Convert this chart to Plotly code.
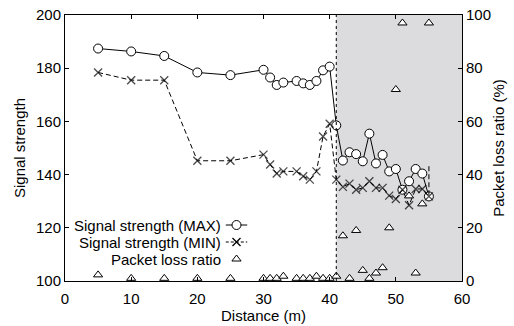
import plotly.graph_objects as go

# ---- data ----
dist_max = [5, 10, 15, 20, 25, 30, 31, 32, 33, 35, 36, 37, 38, 39, 40,
            41, 42, 43, 44, 45, 46, 47, 48, 49, 50, 51, 52, 53, 54, 55]
sig_max = [187.4, 186.3, 184.6, 178.4, 177.4, 179.4, 176.5, 173.7, 174.6, 175.2,
           174.3, 173.7, 175.2, 179.2, 180.6,
           158.5, 145.3, 148.4, 147.7, 145.0, 155.4, 144.2, 147.4, 141.2, 142.1,
           134.3, 137.5, 142.1, 140.4, 131.8]

dist_min = [5, 10, 15, 20, 25, 30, 31, 32, 33, 35, 36, 37, 38, 39, 40,
            41, 42, 43, 44, 45, 46, 47, 48, 49, 50, 51, 52, 53, 54, 55, 55]
sig_min = [178.4, 175.5, 175.5, 145.2, 145.2, 147.5, 143.8, 140.4, 141.2, 141.2,
           139.4, 138.1, 141.2, 154.3, 159.1,
           138.1, 135.4, 136.6, 134.3, 135.0, 137.5, 135.0, 135.0, 132.1, 130.8,
           134.3, 128.5, 134.6, 134.6, 131.8, 143.8]
min_marker_size = [8] * 30 + [0]

dist_loss = [5, 10, 15, 20, 25, 30, 31, 32, 33, 35, 36, 37, 38, 39, 40,
             41, 42, 43, 44, 45, 46, 47, 48, 49, 50, 51, 52, 53, 54, 55]
loss = [2.3, 1, 1, 1, 1, 1, 1, 1, 1.8, 1, 1, 1, 1.8, 1, 1,
        1.8, 17, 1, 19, 4, 1, 3, 5, 20, 72, 97, 32, 3, 29, 97]

shade_start = 41
x_ticks = [0, 10, 20, 30, 40, 50, 60]
y_ticks = [100, 120, 140, 160, 180, 200]
y2_ticks = [0, 20, 40, 60, 80, 100]

legend_names = ["Signal strength (MAX)", "Signal strength (MIN)", "Packet loss ratio"]

FONT = "Liberation Sans, Arial, Helvetica, sans-serif"
FS = 15
DASH = "5px,3px"

fig = go.Figure()

fig.add_trace(go.Scatter(
    x=dist_max, y=sig_max, mode="lines+markers", name=legend_names[0],
    line=dict(color="black", width=1),
    marker=dict(symbol="circle", size=9, color="white", line=dict(color="black", width=1)),
    cliponaxis=False, showlegend=False))

fig.add_trace(go.Scatter(
    x=dist_min, y=sig_min, mode="lines+markers", name=legend_names[1],
    line=dict(color="black", width=1, dash=DASH),
    marker=dict(symbol="x-thin", size=min_marker_size, color="black",
                line=dict(color="black", width=1.3)),
    cliponaxis=False, showlegend=False))

fig.add_trace(go.Scatter(
    x=dist_loss, y=loss, mode="markers", name=legend_names[2], yaxis="y2",
    marker=dict(symbol="triangle-up", size=8, color="white", line=dict(color="black", width=1)),
    cliponaxis=False, showlegend=False))

# ---- manual legend (text left, symbol right) ----
rows_y = [0.2105, 0.1466, 0.0827]
text_x = 0.398
sym_x0, sym_xc, sym_x1 = 0.405, 0.432, 0.459
fig.add_trace(go.Scatter(x=[sym_x0, sym_x1], y=[rows_y[0]] * 2, mode="lines",
                         line=dict(color="black", width=1), xaxis="x3", yaxis="y3",
                         showlegend=False, hoverinfo="skip"))
fig.add_trace(go.Scatter(x=[sym_xc], y=[rows_y[0]], mode="markers",
                         marker=dict(symbol="circle", size=9, color="white",
                                     line=dict(color="black", width=1)),
                         xaxis="x3", yaxis="y3", showlegend=False, hoverinfo="skip"))
fig.add_trace(go.Scatter(x=[sym_x0, sym_x1], y=[rows_y[1]] * 2, mode="lines",
                         line=dict(color="black", width=1, dash="3px,2px"), xaxis="x3", yaxis="y3",
                         showlegend=False, hoverinfo="skip"))
fig.add_trace(go.Scatter(x=[sym_xc], y=[rows_y[1]], mode="markers",
                         marker=dict(symbol="x-thin", size=8, color="black",
                                     line=dict(color="black", width=1.3)),
                         xaxis="x3", yaxis="y3", showlegend=False, hoverinfo="skip"))
fig.add_trace(go.Scatter(x=[sym_xc], y=[rows_y[2]], mode="markers",
                         marker=dict(symbol="triangle-up", size=8, color="white",
                                     line=dict(color="black", width=1)),
                         xaxis="x3", yaxis="y3", showlegend=False, hoverinfo="skip"))

for name, ry in zip(legend_names, rows_y):
    fig.add_annotation(x=text_x, y=ry, xref="paper", yref="paper", text=name,
                       showarrow=False, xanchor="right", yanchor="middle",
                       font=dict(family=FONT, size=FS, color="black"))

# ---- shaded region ----
fig.add_shape(type="rect", xref="x", yref="paper", x0=shade_start, x1=60, y0=0, y1=1,
              fillcolor="#dcdcde", line=dict(width=0), layer="below")
fig.add_shape(type="line", xref="x", yref="paper", x0=shade_start, x1=shade_start, y0=0, y1=1,
              line=dict(color="black", width=1, dash="dot"), layer="above")

axis_common = dict(showgrid=False, zeroline=False, showline=True, linecolor="black",
                   linewidth=1, ticks="inside", ticklen=4, tickcolor="black",
                   automargin=False,
                   tickfont=dict(family=FONT, size=FS, color="black"))

fig.update_layout(
    width=514, height=326,
    margin=dict(l=65, r=52, t=15, b=45),
    paper_bgcolor="white", plot_bgcolor="white",
    font=dict(family=FONT, size=FS, color="black"),
    xaxis=dict(range=[0, 60], tickvals=x_ticks, mirror="ticks", ticklabelstandoff=4,
               title=dict(text="Distance (m)", standoff=3, font=dict(size=FS)),
               **axis_common),
    yaxis=dict(range=[100, 200], tickvals=y_ticks, mirror=True,
               title=dict(text="Signal strength", standoff=6, font=dict(size=FS)),
               **axis_common),
    yaxis2=dict(range=[0, 100], tickvals=y2_ticks, overlaying="y", side="right",
                title=dict(text="Packet loss ratio (%)", standoff=3, font=dict(size=FS)),
                **axis_common),
    xaxis3=dict(overlaying="x", range=[0, 1], visible=False),
    yaxis3=dict(overlaying="y", range=[0, 1], visible=False),
    showlegend=False,
)

fig.write_html("out.html", config={"displayModeBar": False},
               post_script="document.body.style.margin='0';document.body.style.overflow='hidden';")
